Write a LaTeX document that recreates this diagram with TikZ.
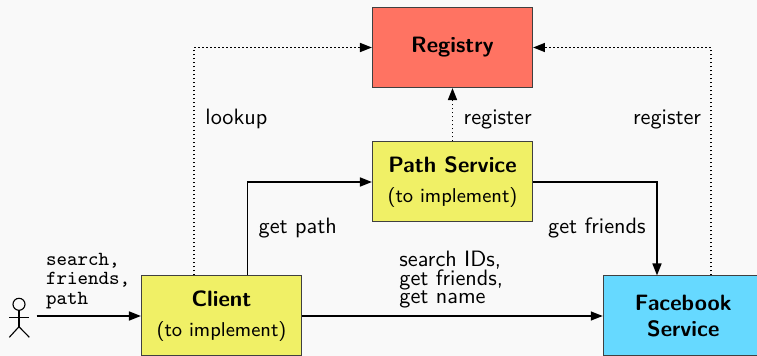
\documentclass[tikz,border=0pt]{standalone}
\usepackage{fontspec}
\usetikzlibrary{arrows.meta}
\definecolor{bgc}{RGB}{249,249,249}
\definecolor{regred}{RGB}{255,115,98}
\definecolor{impyellow}{RGB}{240,240,102}
\definecolor{fbblue}{RGB}{102,217,255}
\newcommand\ttlabelfont{\ttfamily\fontsize{9}{8.6}\selectfont\lineskiplimit=-20pt\relax}
\newcommand\sflabelfont{\sffamily\fontsize{10}{8.2}\selectfont\lineskiplimit=-20pt\relax}
\begin{document}
\begin{tikzpicture}[x=0.45pt,y=-0.45pt,
  box/.style={draw=black!75,line width=0.45pt,minimum width=72pt,minimum height=36pt,align=center,font=\sffamily,inner sep=0pt},
  flow/.style={line width=0.8pt,-{Triangle[length=5.4pt,width=4pt]}},
  dflow/.style={flow,densely dotted},
  lbl/.style={font=\sffamily,inner sep=0pt,anchor=base west},
  multilbl/.style={inner sep=0pt,anchor=base west,align=left},
  actorline/.style={line width=0.5pt}
]
\fill[bgc] (0,0) rectangle (757,356);
\useasboundingbox (0,0) rectangle (757,356);

\node[box,fill=regred] (reg) at (452.5,47.5) {\textbf{Registry}};
\node[box,fill=impyellow] (path) at (452.5,182) {\textbf{Path Service}\\[1.5pt]{\small (to implement)}};
\node[box,fill=impyellow] (client) at (221.5,316) {\textbf{Client}\\[1.5pt]{\small (to implement)}};
\node[box,fill=fbblue] (fb) at (683.3,316) {\textbf{Facebook}\\\textbf{Service}};

\coordinate (lx) at (194,0);
\coordinate (rx) at (711,0);
\coordinate (gx) at (247.5,0);
\coordinate (fx) at (657,0);
\coordinate (actorend) at (36.7,316);

\draw[dflow] (client.north -| lx) |- (reg.west);
\draw[dflow] (fb.north -| rx) |- (reg.east);
\draw[dflow] (path.north) -- (reg.south);
\draw[flow] (client.north -| gx) |- (path.west);
\draw[flow] (path.east) -| (fb.north -| fx);
\draw[flow] (client.east) -- (fb.west);
\draw[flow] (actorend) -- (client.west);

% actor
\draw[actorline] (19,304.3) circle[radius=2.7pt];
\draw[actorline] (19,310.5) -- (19,326.7);
\draw[actorline] (9.3,317.3) -- (29.3,317.3);
\draw[actorline] (9.3,337.3) -- (19,326.7) -- (29.3,337.3);

\node[lbl] (lookup) at (205,125) {lookup};
\node[lbl] (regA) at (463.3,125) {register};
\node[lbl] (regB) at (632.7,125) {register};
\node[lbl] (getpath) at (258.3,233.3) {get path};
\node[lbl] (getfr) at (547.7,233.3) {get friends};
\node[multilbl,font=\ttlabelfont] (userreq) at (45.7,304) {search,\\friends,\\path};
\node[multilbl,font=\sflabelfont] (fbreq) at (399,303.3) {search IDs,\\get friends,\\get name};
\end{tikzpicture}
\end{document}
